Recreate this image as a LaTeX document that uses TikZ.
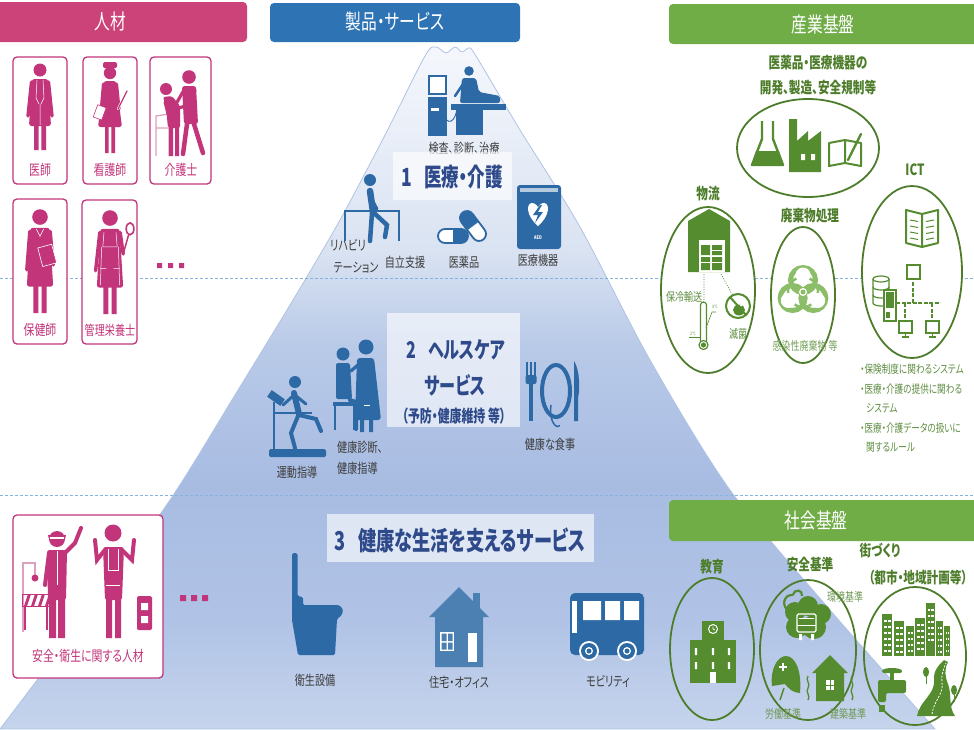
\documentclass[tikz,border=0pt]{standalone}
\usepackage{fontspec}
\setmainfont{Noto Sans CJK JP}[FakeStretch=0.75, RawFeature={+palt}]
\newfontfamily\ttlfont{Noto Sans CJK JP}[FakeStretch=0.7, RawFeature={+palt}]
\usetikzlibrary{calc}

\definecolor{pinkbar}{HTML}{CC4379}
\definecolor{pinkc}{HTML}{C2357A}
\definecolor{pinkl}{HTML}{DDA0BE}
\definecolor{bluebar}{HTML}{2E74B5}
\definecolor{iconblue}{HTML}{2C69A5}
\definecolor{titleblue}{HTML}{2E4A8A}
\definecolor{labgray}{HTML}{3C3C3C}
\definecolor{greenbar}{HTML}{70AD47}
\definecolor{dgreen}{HTML}{4D7D2A}
\definecolor{igreen}{HTML}{548C2F}
\definecolor{lgreen}{HTML}{8CBE6A}
\definecolor{tgreen}{HTML}{5D8C40}
\definecolor{dashblue}{HTML}{86B2DE}
\definecolor{mtnline}{HTML}{AFC3E4}
\definecolor{mtnA}{HTML}{F5F7FC}
\definecolor{mtnB}{HTML}{C6D4EC}
\definecolor{mtnC}{HTML}{B0C3E6}
\definecolor{mtnD}{HTML}{A8BCE2}
\definecolor{mtnE}{HTML}{B9CAE8}
\definecolor{mtnF}{HTML}{DAE3F2}

% mountain body: light at the summit, deepest around the third level
\pgfdeclareverticalshading{mtnshade}{100bp}{color(0bp)=(mtnB); color(25bp)=(mtnB);
  color(33bp)=(mtnC); color(43bp)=(mtnD); color(53bp)=(mtnE); color(60bp)=(mtnF);
  color(75bp)=(mtnA); color(100bp)=(mtnA)}

\tikzset{
  hdr/.style={text=white, font=\fontsize{21}{23}\selectfont, inner sep=0pt},
  pbox/.style={draw=pinkc, line width=1.3, rounded corners=4, fill=white},
  plab/.style={text=pinkc, font=\fontsize{14.5}{16}\selectfont, inner sep=0pt},
  lab/.style={text=labgray, font=\fontsize{13.5}{15}\selectfont, inner sep=0pt},
  ttl/.style={text=titleblue, inner sep=0pt},
  tbox/.style={fill=white, fill opacity=0.62, draw=none},
  ghead/.style={text=dgreen, font=\bfseries\fontsize{15.5}{17}\selectfont, inner sep=0pt},
  gsm/.style={text=tgreen, font=\fontsize{12}{13}\selectfont, inner sep=0pt},
  gell/.style={draw=dgreen, line width=1.8},
  % standing figures: head centre at the origin, feet at y=80
  doctorfig/.pic={
    \fill[pinkc] (0,0) circle (6.5);
    \fill[pinkc, rounded corners=2.5] (-8,9) -- (8,9) -- (11,56) -- (-11,56) -- cycle;
    \draw[pinkc, line width=3.4, line cap=round] (-8.5,12) -- (-12,46) (8.5,12) -- (12,46);
    \fill[pinkc] (-6,55) rectangle (-1.3,80) (1.3,55) rectangle (6,80);
    \draw[white, line width=0.5] (-3,10) -- (-4,28) -- (-1,34) (3,10) -- (4,28) -- (1,34) (0,34) -- (0,55);
  },
  nursefig/.pic={
    \fill[pinkc] (0,0) circle (6.2);
    \fill[pinkc, rounded corners=1.5] (-7,-11) rectangle (7,-5);
    \fill[pinkc, rounded corners=2.5] (-6,8) -- (6,8) -- (12,54) -- (-12,54) -- cycle;
    \draw[pinkc, line width=3.2, line cap=round] (-6.5,11) -- (-9,40) (6.5,11) -- (9,36);
    \fill[pinkc] (-5,53) rectangle (-1.3,80) (1.3,53) rectangle (5,80);
    \draw[pinkc, fill=white, line width=0.6, rotate around={-20:(-10,40)}] (-15,33) rectangle (-6,46);
    \draw[white, line width=2.4, line cap=round] (8,36) -- (17,18);
    \draw[pinkc, line width=1.2, line cap=round] (8,36) -- (17,18);
  },
  phnfig/.pic={
    \fill[pinkc] (0,0) circle (6.5);
    \fill[pinkc, rounded corners=2.5] (-8,9) -- (8,9) -- (11,58) -- (-11,58) -- cycle;
    \draw[pinkc, line width=3.4, line cap=round] (-8.5,12) -- (-11,44) (8.5,12) -- (11,40);
    \fill[pinkc] (-5.5,57) rectangle (-1.3,80) (1.3,57) rectangle (5.5,80);
    \draw[white, fill=pinkc, line width=0.6, rotate around={15:(6,32)}] (0,24) rectangle (12,40);
    \draw[white, line width=0.5] (-3,10) -- (0,16) -- (3,10);
  },
  dietfig/.pic={
    \fill[pinkc] (0,0) circle (6.5);
    \fill[pinkc, rounded corners=2.5] (-8,9) -- (8,9) -- (11,58) -- (-11,58) -- cycle;
    \draw[pinkc, line width=3.4, line cap=round] (-8.5,12) -- (-12,44) (8.5,12) -- (11,30);
    \fill[pinkc] (-5.5,57) rectangle (-1.3,80) (1.3,57) rectangle (5.5,80);
    \draw[white, line width=0.5] (-5,12) -- (-6,24) -- (6,24) -- (5,12) (-7,24) -- (-8,56) (7,24) -- (8,56) (-8,42) -- (-3,42) (3,42) -- (8,42);
    \draw[pinkc, line width=1.5] (11,30) -- (15.5,14);
    \draw[pinkc, line width=1.6] (16.7,9) ellipse (3.2 and 5);
  }
}

\begin{document}
\begin{tikzpicture}[x=1pt,y=-1pt]
\useasboundingbox (0,0) rectangle (974,729);
\clip (0,0) rectangle (974,729);

% ---------------- mountain ----------------
\path[shading=mtnshade, draw=mtnline, line width=0.8]
  plot[smooth, tension=0.5] coordinates {(0,729) (90,610) (170,500) (235,395) (293,300)
    (340,220) (385,135) (425,56) (436,47) (446,53) (455,47) (462,52) (469,48) (476,56)
    (520,130) (580,227) (650,360) (730,490) (830,610) (935,729)} -- cycle;

% level separators
\draw[dashblue, line width=1, dash pattern=on 3pt off 2pt] (0,278) -- (974,278);
\draw[dashblue, line width=1, dash pattern=on 3pt off 2pt] (0,495) -- (974,495);

% ---------------- header bars ----------------
\fill[pinkbar, rounded corners=4] (-20,2) rectangle (247,42);
\node[hdr] (hPeople) at (110,22) {人材};
\fill[bluebar, rounded corners=4] (270,3) rectangle (520,42);
\node[hdr] (hProd) at (395,22) {製品・サービス};
\fill[greenbar, rounded corners=4] (669,4) rectangle (990,44);
\node[hdr] (hInd) at (823,24) {産業基盤};
\fill[greenbar, rounded corners=4] (669,500) rectangle (990,541);
\node[hdr] (hSoc) at (816,521) {社会基盤};

% ---------------- people ----------------
\node[pbox, minimum width=54, minimum height=127] (bDoc) at (40,120.5) {};
\node[pbox, minimum width=54, minimum height=127] (bNurse) at (110,120.5) {};
\node[pbox, minimum width=61, minimum height=127] (bCare) at (180.5,120.5) {};
\node[pbox, minimum width=54, minimum height=145] (bPhn) at (40,271.5) {};
\node[pbox, minimum width=55, minimum height=144] (bDiet) at (109.5,272) {};
\node[pbox, minimum width=150, minimum height=163] (bSafe) at (88,596.5) {};

\pic at (40,70) {doctorfig};
\pic at (110,73) {nursefig};
\pic[scale=1.2] at (40,217) {phnfig};
\pic[scale=1.2] at (110,218) {dietfig};

% care worker supporting an elderly person with a walker
\draw[pinkl, line width=1.3] (156,156) -- (156,116) -- (169,114) -- (169,156) (156,128) -- (169,128);
\fill[pinkc] (166,89) circle (6);
\fill[pinkc, rounded corners=2] (163,97) -- (172,96) -- (180,106) -- (180,128) -- (168,128) -- (166,108) -- cycle;
\draw[pinkc, line width=3, line cap=round] (165,102) -- (168,114);
\fill[pinkc] (169,127) rectangle (173,156) (175,127) rectangle (179,156);
\fill[pinkc] (189,77) circle (6.8);
\fill[pinkc, rounded corners=2.5] (182,86) -- (196,86) -- (198,124) -- (184,124) -- cycle;
\draw[pinkc, line width=3.2, line cap=round] (184,90) -- (176,104) (195,90) -- (186,106) -- (178,108);
\draw[pinkc, line width=4.5, line cap=round] (187,124) -- (183,154) (194,124) -- (203,153);

\node[plab] (tDoc) at (40,170) {医師};
\node[plab] (tNurse) at (110,170) {看護師};
\node[plab] (tCare) at (181,170) {介護士};
\node[plab] (tPhn) at (40,330) {保健師};
\node[plab, font=\fontsize{13.5}{15}\selectfont] (tDiet) at (110,330) {管理栄養士};

\fill[pinkc] (157,263) rectangle (162,268) (168,263) rectangle (173,268) (179,263) rectangle (184,268);

% safety / hygiene staff
\draw[pinkl, line width=1.2] (23,632) -- (23,563) -- (35,563) -- (35,575);
\fill[pinkc] (35,578) circle (3.5);
\draw[pinkc, line width=1] (22,594) rectangle (50,606);
\foreach \s in {24,31,38,45}{\fill[pinkc] (\s,606) -- (\s+4,594) -- (\s+7,594) -- (\s+3,606) -- cycle;}
\draw[pinkc, line width=1.2] (25,606) -- (25,630) (47,606) -- (47,630);
\fill[pinkc] (57,539) circle (8);
\fill[pinkc] (48,535) arc[start angle=180, end angle=0, x radius=9, y radius=8] -- cycle;
\draw[white, line width=1.2] (50,538) -- (64,538);
\fill[pinkc, rounded corners=2.5] (47,550) -- (67,550) -- (66,600) -- (48,600) -- cycle;
\draw[white, line width=0.8] (57,551) -- (57,585);
\draw[pinkc, line width=4, line cap=round] (65,553) -- (75,543) -- (81,528) (49,553) -- (45,585);
\fill[pinkc] (49,598) rectangle (56,638) (58,598) rectangle (65,638);
\fill[pinkc] (113,533) circle (8.5);
\fill[pinkc, rounded corners=2.5] (103,547) -- (124,547) -- (122,600) -- (105,600) -- cycle;
\draw[white, line width=0.6] (108,549) -- (108,570) -- (118,570) -- (118,549) (106,585) -- (120,585);
\draw[pinkc, line width=4, line cap=round] (104,551) -- (97,560) -- (95,540) (123,551) -- (132,560) -- (134,540);
\fill[pinkc] (106,598) rectangle (112,638) (115,598) rectangle (121,638);
\fill[pinkc, rounded corners=1.5] (137,596) rectangle (152,630);
\fill[white] (141,603) rectangle (148,610) (141,616) rectangle (148,623);
\node[plab] (tSafe) at (88,656) {安全・衛生に関する人材};
\fill[pinkc] (180,595) rectangle (186,601) (191,595) rectangle (197,601) (202,595) rectangle (208,601);

% ---------------- level 1: medical and nursing care ----------------
% examination equipment
\draw[iconblue, line width=1.3, fill=white] (429,76) rectangle (446,94);
\fill[iconblue] (428,97) rectangle (447,136);
\fill[white] (431,108) rectangle (439,111);
\draw[iconblue, line width=0.9] (441,110) .. controls (448,130) and (456,120) .. (457,108);
\fill[iconblue] (451,104) rectangle (506,110);
\fill[iconblue] (456,110) rectangle (483,135);
\fill[iconblue] (469,71) circle (4.8);
\fill[iconblue, rounded corners=2] (462,78) -- (476,78) -- (479,92) -- (500,96) -- (500,103) -- (460,103) -- cycle;
\draw[iconblue, line width=2.5, line cap=round] (463,84) -- (455,96);
\node[lab] (tExam) at (464,148) {検査、診断、治療};

\node[tbox, minimum width=119, minimum height=48] (box1) at (452.5,176) {};
\node[ttl, font=\ttlfont\bfseries\fontsize{25}{27}\selectfont] (title1) at (452,177) {1\hspace{0.5em}医療・介護};

% rehabilitation
\draw[iconblue, line width=2.2] (345,241) -- (345,211) -- (399,211) -- (399,241);
\fill[iconblue] (370,180) circle (6);
\draw[iconblue, line width=6.5, line cap=round] (370,191) -- (373,212);
\draw[iconblue, line width=4.5, line cap=round] (374,213) -- (387,225) -- (385,237);
\draw[iconblue, line width=4.5, line cap=round] (372,213) -- (370,241);
\draw[iconblue, line width=3, line cap=round] (369,194) -- (377,209);
\node[lab] (tReha1) at (348,245) {リハビリ};
\node[lab] (tReha2) at (356,268) {テーション};
\node[lab] (tSelf) at (405,262) {自立支援};

% medicines
\begin{scope}[shift={(453,236)}]
  \draw[iconblue, line width=1.8, fill=white, rounded corners=7] (-15,-7) rectangle (15,7);
  \begin{scope}\clip (0,-9) rectangle (17,9);
    \fill[iconblue, rounded corners=7] (-15,-7) rectangle (15,7);
  \end{scope}
\end{scope}
\begin{scope}[shift={(473,226)}, rotate=-53]
  \draw[iconblue, line width=1.8, fill=white, rounded corners=7] (-17,-7) rectangle (17,7);
  \begin{scope}\clip (-19,-9) rectangle (0,9);
    \fill[iconblue, rounded corners=7] (-17,-7) rectangle (17,7);
  \end{scope}
\end{scope}
\node[lab] (tMed) at (464,262) {医薬品};

% AED
\fill[iconblue, rounded corners=3] (517,185) rectangle (561,249);
\fill[white!65!iconblue] (520,188) rectangle (558,192);
\fill[white] (538,226) .. controls (526,216) and (526,203) .. (532,203) .. controls (535,203) and (538,206) .. (538,208)
  .. controls (538,206) and (541,203) .. (544,203) .. controls (550,203) and (550,216) .. (538,226) -- cycle;
\fill[iconblue] (540,205) -- (533,215) -- (538,215) -- (535,223) -- (543,212) -- (538,212) -- (542,205) -- cycle;
\node[text=white, font=\bfseries\fontsize{5}{5}\selectfont, inner sep=0] (tAED) at (538,238) {AED};
\node[lab] (tDev) at (538,260) {医療機器};

% ---------------- level 2: healthcare services ----------------
\node[tbox, minimum width=133, minimum height=114] (box2) at (453.5,370) {};
\node[ttl, font=\ttlfont\bfseries\fontsize{23}{25}\selectfont] (title2a) at (456,350) {2\hspace{0.5em}ヘルスケア};
\node[ttl, font=\ttlfont\bfseries\fontsize{23}{25}\selectfont] (title2b) at (455,385) {サービス};
\node[ttl, font=\ttlfont\bfseries\fontsize{17}{19}\selectfont] (title2c) at (454,416) {（予防・健康維持 等）};

% exercise on a treadmill
\fill[iconblue, rounded corners=1.5] (269,449) rectangle (326,457);
\fill[iconblue, rotate around={-35:(276,398)}] (268,394) rectangle (284,402);
\draw[iconblue, line width=2.6] (274,402) -- (274,451);
\draw[iconblue, line width=2.2] (274,413) -- (312,413);
\fill[iconblue] (295,382) circle (6);
\draw[iconblue, line width=6, line cap=round] (294,393) -- (299,414);
\draw[iconblue, line width=4, line cap=round] (299,415) -- (316,419) -- (321,431);
\draw[iconblue, line width=4, line cap=round] (298,416) -- (291,433) -- (295,448);
\draw[iconblue, line width=3, line cap=round] (293,396) -- (283,405) (296,396) -- (306,404);
\node[lab] (tEx) at (297,472) {運動指導};

% health check-up
\fill[iconblue] (343,354) circle (6.5);
\fill[iconblue, rounded corners=2] (336,363) -- (350,363) -- (352,399) -- (336,399) -- cycle;
\draw[iconblue, line width=4, line cap=round] (350,400) -- (356,402) -- (356,429);
\fill[iconblue] (333,402) rectangle (357,406);
\draw[iconblue, line width=1.5] (335,406) -- (335,430) (354,406) -- (354,430);
\fill[iconblue] (366,347) circle (7.5);
\fill[iconblue, rounded corners=3] (357,358) -- (374,358) -- (381,420) -- (355,420) -- cycle;
\draw[iconblue, line width=3.2, line cap=round] (359,364) -- (351,371);
\fill[iconblue] (360,418) rectangle (364,432) (369,418) rectangle (373,432);
\draw[white, line width=0.6] (364,405) -- (370,405);
\node[lab, anchor=west] (tChk1) at (337,447) {健康診断、};
\node[lab, anchor=west] (tChk2) at (337,468) {健康指導};

% healthy diet
\draw[iconblue, line width=1.8] (527,362) -- (527,378) (531,362) -- (531,378) (535,362) -- (535,378);
\fill[iconblue, rounded corners=2] (525.5,375) rectangle (536.5,384);
\fill[iconblue] (529,381) rectangle (533,421);
\draw[iconblue, line width=4] (556,391) ellipse (14 and 26);
\draw[iconblue, line width=1.5] (551,405) arc[start angle=200, end angle=70, x radius=7, y radius=16];
\fill[iconblue] (574,361) .. controls (580,370) and (580,390) .. (578,398) -- (578,421) -- (574,421) -- cycle;
\node[lab] (tFood) at (550,444) {健康な食事};

% ---------------- level 3: services supporting healthy living ----------------
\node[tbox, minimum width=267, minimum height=48] (box3) at (460.5,538) {};
\node[ttl, font=\ttlfont\bfseries\fontsize{26}{28}\selectfont] (title3) at (460,540) {3\hspace{0.5em}健康な生活を支えるサービス};

% sanitary equipment
\fill[iconblue, rounded corners=1.5] (292,553) -- (297.5,553) -- (297.5,596) -- (303,597) -- (303,605) -- (339,605)
  -- (343,609) -- (342,615) -- (337,619) -- (335,655) -- (298,655) -- (292,620) -- cycle;
\node[lab] (tSan) at (315,680) {衛生設備};

% housing / office
\fill[iconblue!85!white] (459,587) -- (489,617) -- (483,617) -- (483,667) -- (435,667) -- (435,617) -- (429,617) -- cycle;
\fill[iconblue!85!white] (473,593) rectangle (480,610);
\fill[white] (440,632) rectangle (454,651);
\fill[iconblue!85!white] (441.5,633.5) rectangle (446.5,641) (448,633.5) rectangle (452.5,641)
  (441.5,642.5) rectangle (446.5,649.5) (448,642.5) rectangle (452.5,649.5);
\fill[white] (468,633) rectangle (477,662);
\node[lab] (tHouse) at (459,682) {住宅・オフィス};

% mobility
\fill[iconblue, rounded corners=5] (570,593) rectangle (644,655);
\fill[white] (583,601) rectangle (601,620) (605,601) rectangle (620,620) (624,601) rectangle (639,620);
\fill[white] (572,601) rectangle (577,633);
\foreach \w in {589,627}{
  \fill[white] (\w,651) circle (10);
  \fill[iconblue] (\w,651) circle (8);
  \fill[white] (\w,651) circle (4);
  \fill[iconblue] (\w,651) circle (2.5);
}
\node[lab] (tMob) at (608,681) {モビリティ};

% ---------------- industrial infrastructure ----------------
\node[ghead] (tDrug1) at (818,63) {医薬品・医療機器の};
\node[ghead] (tDrug2) at (818,88) {開発、製造、安全規制等};
\draw[gell, fill=white] (808,148) ellipse (71 and 49);
% flask
\fill[igreen] (756,151) -- (779,151) -- (783,164) -- (752,164) -- cycle;
\draw[igreen, line width=2.4, line join=round] (762,121) -- (762,139) -- (752,165) -- (783,165) -- (773,139) -- (773,121);
% factory
\fill[igreen] (789,172) -- (789,119) -- (797,119) -- (797,141) -- (808,131) -- (808,141) -- (821,131) -- (821,172) -- cycle;
\fill[white] (801,154) rectangle (805,160) (811,154) rectangle (815,160);
% notebook with a pen
\draw[igreen, line width=2, line join=round] (829,143) -- (829,166) -- (845,163) -- (861,166) -- (861,143) -- (845,140) -- cycle (845,140) -- (845,163);
\draw[igreen, line width=2.4, line cap=round] (848,160) -- (861,134);

\node[ghead] (tLog) at (708,194) {物流};
\draw[gell, fill=white] (708,290) ellipse (47 and 83);
\fill[igreen] (688,272) -- (688,221) -- (709,209) -- (730,221) -- (730,272) -- cycle;
\fill[white] (699,240) rectangle (725,272);
\fill[igreen] (701,257) rectangle (710,270) (712,257) rectangle (722,270) (712,245) rectangle (722,255) (701,245) rectangle (710,255);
\draw[white, line width=0.5] (701,262) -- (710,262) (712,262) -- (722,262) (712,250) -- (722,250);
\draw[igreen, line width=0.7, dash pattern=on 1pt off 1.5pt] (704,274) -- (704,300) (721,274) -- (733,296);
\node[gsm] (tCold) at (684,297) {保冷輸送};
\draw[igreen, line width=1.2, rounded corners=3] (700.5,341) -- (700.5,302) -- (706.5,302) -- (706.5,341);
\draw[igreen, line width=1.2, fill=white] (703.5,345) circle (4.5);
\fill[igreen] (703.5,345) circle (2.6);
\draw[igreen, line width=0.6] (706,328) -- (712,312) -- (716,312);
\node[text=igreen, font=\fontsize{4.5}{5}\selectfont, inner sep=0] (t8c) at (715,307) {8℃};
\node[text=igreen, font=\fontsize{4.5}{5}\selectfont, inner sep=0] (t2c) at (693,334) {2℃};
\draw[igreen, line width=0.6] (689,337) -- (700,337);
\draw[igreen, line width=2] (738,306) circle (12);
\fill[igreen] (739,310) ellipse (6 and 5.5);
\fill[white] (741,305) circle (1.5);
\draw[igreen, line width=2] (730,297) -- (746,315);
\node[gsm] (tSter) at (738,334) {滅菌};

\node[ghead] (tWaste) at (810,216) {廃棄物処理};
\draw[gell, fill=white] (803,295) ellipse (32 and 68);
% biohazard mark
\begin{scope}[lgreen]
  \foreach \a in {90,210,330}{
    \draw[line width=5] ($(803,292)+({\a}:-12)$) circle (12.5);
  }
  \draw[line width=2.5] (803,292) circle (15);
  \foreach \a in {90,210,330}{
    \fill[white] ($(803,292)+({\a}:-17)$) circle (7.5);
  }
  \fill[white] (803,292) circle (4);
  \fill (803,292) circle (2.5);
\end{scope}
\node[gsm, text=lgreen!85!black] (tWaste2) at (805,346) {感染性廃棄物 等};

\node[ghead] (tICT) at (915,170) {ICT};
\draw[gell, fill=white] (912,272) ellipse (50 and 86);
% open book
\draw[igreen, line width=2, line join=round] (906,210) -- (906,243) -- (922,247) -- (938,243) -- (938,210) -- (922,214) -- cycle (922,214) -- (922,247);
\foreach \r in {220,226,232,238}{
  \draw[igreen, line width=1] (910,\r) -- (918,\r+1.5) (926,\r+1.5) -- (934,\r);
}
% database, server and network
\draw[igreen, line width=1.2, fill=white] (873,279) -- (873,303) arc[start angle=180, end angle=0, x radius=8, y radius=3] -- (889,279);
\draw[igreen, line width=1.2] (873,287) arc[start angle=180, end angle=0, x radius=8, y radius=3]
  (873,295) arc[start angle=180, end angle=0, x radius=8, y radius=3];
\draw[igreen, line width=1.2, fill=white] (881,279) ellipse (8 and 3);
\draw[igreen, line width=1.2, fill=white] (884,290) rectangle (896,321);
\fill[igreen] (886,292) rectangle (894,308);
\fill[igreen] (886,312) rectangle (890,318);
\draw[igreen, line width=1.6, dash pattern=on 4pt off 1.5pt] (896,303) -- (940,303) (913,282) -- (913,303) (905,303) -- (905,320) (932,303) -- (932,320);
\draw[igreen, line width=1.6, fill=white] (907,265) rectangle (920,279);
\draw[igreen, line width=1.6, fill=white] (899,321) rectangle (912,333);
\draw[igreen, line width=1.6, fill=white] (926,321) rectangle (939,333);
\draw[igreen, line width=1.2] (905.5,333) -- (905.5,337) (902,337) -- (909,337) (932.5,333) -- (932.5,337) (929,337) -- (936,337);
\begin{scope}[every node/.style={gsm, font=\fontsize{11.5}{13}\selectfont, anchor=west}]
  \node (tI1) at (860,369) {・保険制度に関わるシステム};
  \node (tI2) at (860,389) {・医療・介護の提供に関わる};
  \node (tI3) at (866,408) {システム};
  \node (tI4) at (860,428) {・医療・介護データの扱いに};
  \node (tI5) at (866,447) {関するルール};
\end{scope}

% ---------------- social infrastructure ----------------
\node[ghead] (tEdu) at (712,567) {教育};
\draw[gell] (712,649) ellipse (42 and 71);
\fill[igreen] (702,621) rectangle (724,642);
\fill[igreen] (690,640) rectangle (736,683);
\draw[white, line width=1] (713,629) circle (4.5);
\draw[white, line width=0.8] (713,629) -- (713,626.5) (713,629) -- (715,630);
\foreach \cx in {696,713,729}{\fill[white] (\cx-1.2,648) rectangle (\cx+1.2,655) (\cx-1.2,662) rectangle (\cx+1.2,669);}
\fill[white] (710,672) rectangle (716,683);

\node[ghead] (tSafeStd) at (810,565) {安全基準};
\draw[gell] (808,650) ellipse (48 and 70);
% cloud with a truck
\fill[igreen] (795,612) circle (10) (808,606) circle (10) (821,614) circle (10) (814,627) circle (12) (797,627) circle (11);
\draw[igreen, line width=2.2] (790,612) .. controls (780,606) and (784,594) .. (793,595) (793,595) .. controls (795,588) and (803,590) .. (802,596);
\draw[white, line width=1.3, rounded corners=1.5] (797,614) rectangle (816,632);
\draw[white, line width=1] (799,618) -- (814,618) (797,625) -- (816,625);
\fill[white] (799,634) rectangle (802,640) (811,634) rectangle (814,640);
\node[gsm, text=lgreen!80!black] (tEnv) at (845,597) {環境基準};
% hard hat
\fill[igreen] (772,686) .. controls (770,668) and (778,656) .. (786,656) .. controls (795,656) and (802,670) .. (800,693) .. controls (793,693) and (788,688) .. (785,684) -- cycle;
\draw[white, line width=1.8] (779,667) -- (787,667) (783,663) -- (783,671);
\draw[igreen, line width=1.5] (784,688) -- (780,700);
\node[gsm, text=lgreen!80!black] (tLab) at (783,714) {労働基準};
% building with tremor lines
\fill[igreen] (830,655) -- (848,673) -- (844,673) -- (844,701) -- (816,701) -- (816,673) -- (812,673) -- cycle;
\fill[white] (826,680) rectangle (834,690);
\draw[igreen, line width=0.8] (830,680) -- (830,690) (826,685) -- (834,685);
\draw[igreen, line width=1.3] (808,676) .. controls (805,680) and (811,684) .. (808,688) .. controls (805,692) and (811,696) .. (808,700);
\draw[igreen, line width=1.3] (852,676) .. controls (849,680) and (855,684) .. (852,688) .. controls (849,692) and (855,696) .. (852,700);
\node[gsm, text=lgreen!80!black] (tBld) at (848,714) {建築基準};

\node[ghead] (tTown1) at (880,551) {街づくり};
\node[ghead] (tTown2) at (918,578) {（都市・地域計画等）};
\draw[gell] (915,656) ellipse (51 and 69);
% skyline
\foreach \bx/\bt/\bw in {882/614/10, 894/621/10, 906/626/8, 915/618/10, 926/603/9, 936/621/7, 944/626/6}{
  \fill[igreen] (\bx,\bt) rectangle (\bx+\bw,656);
  \foreach \wy in {6,12,...,36}{
    \pgfmathsetmacro{\yy}{\bt+\wy}
    \ifdim \yy pt<652pt \fill[white] (\bx+1.5,\yy) rectangle (\bx+\bw-1.5,\yy+1.6); \fi
  }
  \draw[igreen, line width=0.8] (\bx+\bw/2,\bt) -- (\bx+\bw/2,656);
}
% water tap
\fill[igreen, rounded corners=2] (882,673) .. controls (882,667) and (902,667) .. (902,673) -- cycle;
\fill[igreen] (890,673) rectangle (894,680);
\fill[igreen, rounded corners=2] (878,680) -- (906,680) -- (906,693) -- (886,693) -- (886,702) -- (878,702) -- cycle;
\fill[igreen] (879,705) rectangle (885,712);
% winding road with trees
\fill[igreen] (917,716) .. controls (920,700) and (935,695) .. (934,680) .. controls (933,670) and (940,664) .. (944,660)
  -- (948,662) .. controls (944,670) and (945,676) .. (948,684) .. controls (952,694) and (948,706) .. (955,716) -- cycle;
\draw[white, line width=0.8, dash pattern=on 2pt off 1.5pt] (932,714) .. controls (934,700) and (944,694) .. (942,682) .. controls (941,674) and (944,668) .. (946,663);
\fill[igreen] (926,672) ellipse (3 and 5);
\draw[igreen, line width=1] (926,676) -- (926,684);
\fill[igreen] (954,690) ellipse (3 and 5);
\draw[igreen, line width=1] (954,694) -- (954,702);

\end{tikzpicture}
\end{document}
